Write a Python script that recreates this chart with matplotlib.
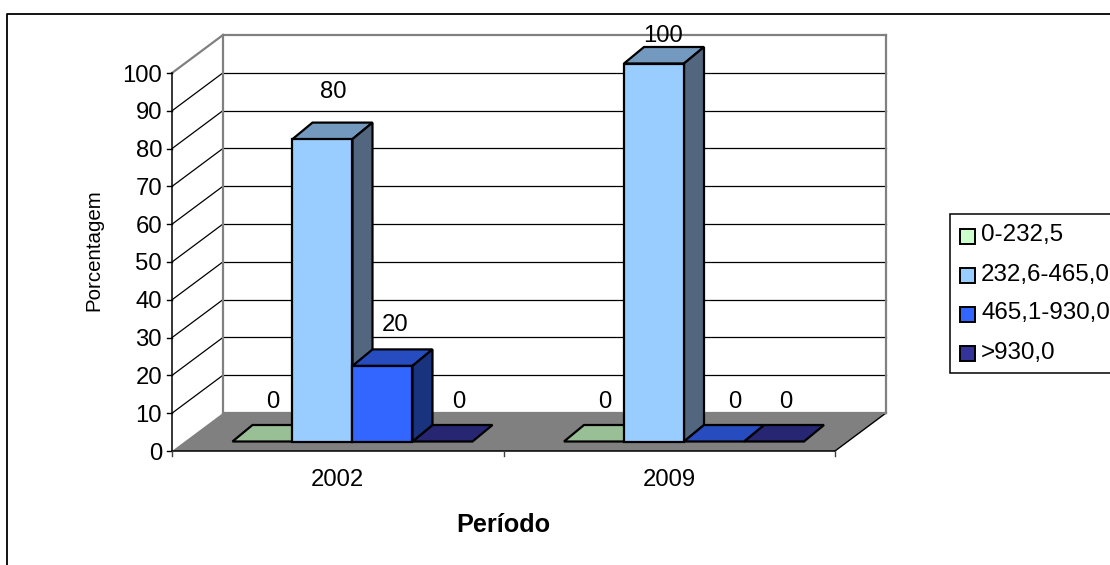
import matplotlib
matplotlib.use("Agg")
import matplotlib.pyplot as plt
from matplotlib.patches import Polygon, Rectangle

plt.rcParams['font.family'] = ['Liberation Sans', 'DejaVu Sans']

periods = ['2002', '2009']
ranges = ['0-232,5', '232,6-465,0', '465,1-930,0', '>930,0']
v_2002 = [0, 80, 20, 0]
v_2009 = [0, 100, 0, 0]
y_ticks = list(range(0, 101, 10))

front = ['#99bf96', '#99ccff', '#3366ff', '#333399']
top_col = ['#99bf96', '#7399bf', '#264cbf', '#262673']
side_col = ['#739973', '#52667f', '#19337f', '#1a1a4d']
legend_col = ['#ccffcc', '#99ccff', '#3366ff', '#333399']

# label nudges from the bar centre, in px
label_dx = [[10, 11, 13, 16], [11, 9, 21, 12]]
label_dy = [[42, 50, 43, 42], [42, 30, 42, 42]]

W, H = 1110, 565
fig = plt.figure(figsize=(W / 100, H / 100), dpi=100)
ax = fig.add_axes([0, 0, 1, 1])

# one category = 331.5 px, one percent = 3.78 px
cat_px, unit_px = 331.5, 3.78
x0_px, y0_px = 172, 451
ax.set_xlim(-x0_px / cat_px, (W - x0_px) / cat_px)
ax.set_ylim(-(H - y0_px) / unit_px, y0_px / unit_px)
ax.axis('off')

depth_x, depth_y = 51 / cat_px, 38 / unit_px
bar_w = 60 / cat_px
bar_dx, bar_dy = 20 / cat_px, 16.5 / unit_px
front_x, front_y = 0.1825, 9.5 / unit_px

# floor
ax.add_patch(Polygon([(0, 0), (2, 0), (2 + depth_x, depth_y), (depth_x, depth_y)],
                     fc='#808080', ec='none', zorder=1))
ax.plot([2, 2 + depth_x], [0, depth_y], color='black', lw=1, zorder=1.2)

# grid on back and side wall
for t in y_ticks[1:]:
    lc = '#808080' if t == 100 else 'black'
    lw = 1.6 if t == 100 else 0.9
    ax.plot([depth_x, 2 + depth_x], [t + depth_y] * 2, color=lc, lw=lw, zorder=1)
    ax.plot([0, depth_x], [t, t + depth_y], color=lc, lw=lw, zorder=1)
ax.plot([depth_x, 2 + depth_x], [depth_y, depth_y], color='#808080', lw=1.6, zorder=1.5)
ax.plot([depth_x, depth_x], [depth_y, 100 + depth_y], color='#808080', lw=1.6, zorder=1.5)
ax.plot([2 + depth_x, 2 + depth_x], [depth_y, 100 + depth_y], color='#808080', lw=1.6, zorder=1.5)

# value axis and category axis
ax.plot([0, 0], [0, 100], color='black', lw=1.1, zorder=2)
ax.plot([0, 2], [0, 0], color='black', lw=1.1, zorder=2)
tick_y = 5 / unit_px
tick_x = 5 / cat_px
for t in y_ticks:
    ax.plot([-tick_x, 0], [t, t], color='black', lw=1, zorder=2)
    ax.text(-10 / cat_px, t, str(t), ha='right', va='center_baseline', fontsize=17.2)
for c in range(3):
    ax.plot([c, c], [0, -tick_y], color='#404040', lw=1, zorder=2)
for c, p in enumerate(periods):
    ax.text(c + 0.5, -26 / unit_px, p, ha='center', va='center_baseline', fontsize=17.2)


def draw_bar(x, v, i, z):
    y = front_y
    ax.add_patch(Polygon([(x, y + v), (x + bar_dx, y + v + bar_dy),
                          (x + bar_w + bar_dx, y + v + bar_dy), (x + bar_w, y + v)],
                         fc=top_col[i], ec='black', lw=1.6, zorder=z))
    if v > 0:
        ax.add_patch(Polygon([(x + bar_w, y), (x + bar_w + bar_dx, y + bar_dy),
                              (x + bar_w + bar_dx, y + v + bar_dy), (x + bar_w, y + v)],
                             fc=side_col[i], ec='black', lw=1.6, zorder=z))
        ax.add_patch(Rectangle((x, y), bar_w, v, fc=front[i], ec='black', lw=1.6, zorder=z + 0.1))


for c, vals in enumerate([v_2002, v_2009]):
    for i, v in enumerate(vals):
        x = c + front_x + i * bar_w
        draw_bar(x, v, i, 3 + i * 0.5 if i != 3 else 2.5)
        ax.text(x + bar_w / 2 + label_dx[c][i] / cat_px, v + front_y + label_dy[c][i] / unit_px,
                str(v), ha='center', va='center_baseline', fontsize=17.2, zorder=8)

ax.text(1.0, -71 / unit_px, 'Período', ha='center', va='center_baseline', fontsize=18.2, fontweight='bold')
ax.text(-78 / cat_px, 53.2, 'Porcentagem', ha='center', va='center', rotation=90, fontsize=14.8)

# outer frame and legend drawn in figure pixels
to_fig = fig.transFigure
fig.add_artist(plt.Line2D([6.5 / W, 6.5 / W, 1], [0, (H - 14) / H, (H - 14) / H], color='black', lw=1.3,
                          transform=to_fig, zorder=0))
fig.add_artist(Rectangle((950 / W, (H - 373) / H), 170 / W, 159 / H, fc='white', ec='black', lw=1.1,
                         transform=to_fig, zorder=9))
for i, r in enumerate(ranges):
    ly = 236.5 + i * 39
    fig.add_artist(Rectangle((960 / W, (H - ly - 7.5) / H), 15 / W, 15 / H, fc=legend_col[i], ec='black',
                             lw=1.4, transform=to_fig, zorder=10))
    fig.text(981 / W, (H - ly + 3.5) / H, r, ha='left', va='center_baseline', fontsize=17.4, zorder=10)

fig.savefig('out.png', dpi=100)
